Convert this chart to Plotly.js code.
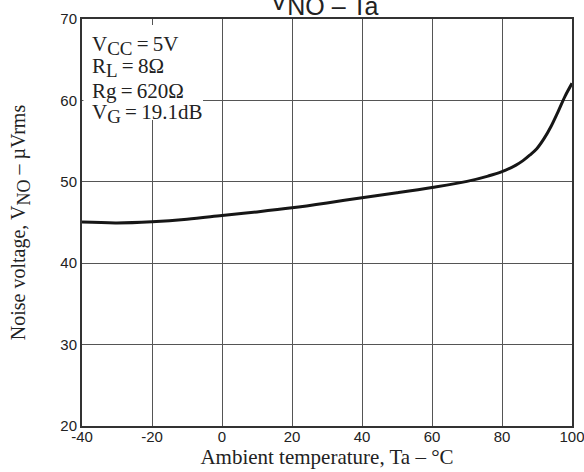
<!DOCTYPE html>
<html>
<head>
<meta charset="utf-8">
<script src="https://cdn.plot.ly/plotly-3.0.1.min.js"></script>
<style>html,body{margin:0;padding:0;background:#fff;}#chart{width:584px;height:472px;}</style>
</head>
<body>
<div id="chart"></div>
<script>
// Data
const temperature = [-40, -30, -20, -10, 0, 10, 20, 30, 40, 50, 60, 70, 76, 80, 84, 86, 88, 90, 92, 94, 96, 98, 100];
const noiseVoltage = [45.05, 44.95, 45.1, 45.4, 45.85, 46.3, 46.8, 47.4, 48.05, 48.65, 49.3, 50.05, 50.7, 51.25, 52.05, 52.6, 53.3, 54.1, 55.3, 56.8, 58.6, 60.5, 62.1];
const xTickVals = [-40, -20, 0, 20, 40, 60, 80, 100];
const xTickText = ["-40", "-20", "0", "20", "40", "60", "80", "100"];
const yTickVals = [20, 30, 40, 50, 60, 70];
const yTickText = ["20", "30", "40", "50", "60", "70"];
const conditions = [
  "V<sub><span style=\"font-size:19px\">CC</span></sub>\u2009=\u20095V",
  "R<sub><span style=\"font-size:19px\">L</span></sub>\u2009=\u20098\u03A9",
  "Rg\u2009=\u2009620\u03A9",
  "V<sub><span style=\"font-size:19px\">G</span></sub>\u2009=\u200919.1dB"
];

const serif = "Liberation Serif, Times New Roman, serif";
const sans = "Liberation Sans, Arial, sans-serif";

const trace = {
  x: temperature, y: noiseVoltage, type: 'scatter', mode: 'lines',
  line: {color: '#161616', width: 3, shape: 'spline', smoothing: 1},
  hoverinfo: 'skip'
};

const condY = [0.935, 0.88, 0.822, 0.767];
const annotations = conditions.map((t, i) => ({
  text: t, xref: 'paper', yref: 'paper', x: 0.016, y: condY[i],
  xanchor: 'left', yanchor: 'middle', showarrow: false,
  font: {family: serif, size: 21, color: '#222'}
}));

const layout = {
  width: 584, height: 472,
  margin: {l: 82, r: 12, t: 19, b: 46},
  paper_bgcolor: '#fff', plot_bgcolor: '#fff',
  showlegend: false,
  title: {
    text: 'V<sub><span style="font-size:25px">NO \u2013 Ta</span></sub>',
    font: {family: sans, size: 25, color: '#222'},
    x: 0.495, xanchor: 'center', xref: 'paper',
    y: 0.979, yref: 'container', yanchor: 'bottom'
  },
  xaxis: {
    range: [-40, 100], tickvals: xTickVals, ticktext: xTickText,
    showgrid: true, gridcolor: '#555', gridwidth: 1,
    showline: true, mirror: true, linecolor: '#333', linewidth: 2,
    zeroline: false, ticks: '', ticklabeloverflow: 'allow', ticklabelstandoff: -4,
    tickfont: {family: sans, size: 15, color: '#222'},
    title: {text: 'Ambient temperature, Ta \u2013 \u00B0C', font: {family: serif, size: 21, color: '#222'}, standoff: 4}
  },
  yaxis: {
    range: [20, 70], tickvals: yTickVals, ticktext: yTickText,
    showgrid: true, gridcolor: '#555', gridwidth: 1,
    showline: true, mirror: true, linecolor: '#333', linewidth: 2,
    zeroline: false, ticks: '', ticklabeloverflow: 'allow',
    tickfont: {family: sans, size: 15, color: '#222'},
    title: {text: 'Noise voltage, V<sub><span style="font-size:18px">NO</span></sub> \u2013 \u00B5Vrms', font: {family: serif, size: 20, color: '#222'}, standoff: 29}
  },
  shapes: [{
    type: 'rect', xref: 'paper', yref: 'paper', layer: 'above',
    x0: 0.003, x1: 0.247, y0: 0.752, y1: 0.985,
    fillcolor: '#fff', line: {width: 0}
  }],
  annotations: annotations
};

Plotly.newPlot('chart', [trace], layout, {staticPlot: true, displayModeBar: false});
</script>
</body>
</html>
